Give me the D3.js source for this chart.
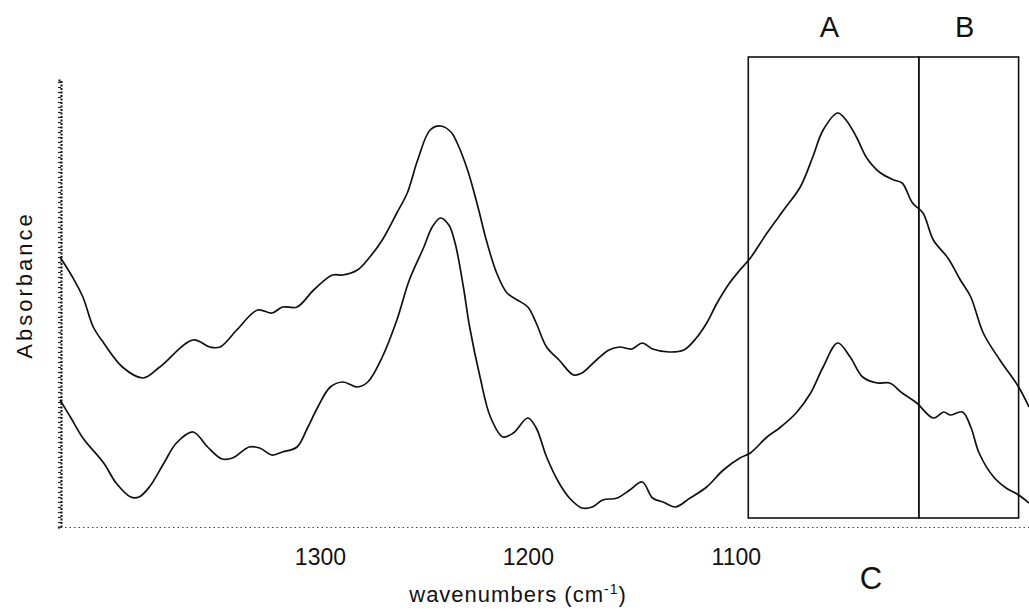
<!DOCTYPE html>
<html>
<head>
<meta charset="utf-8">
<script src="https://cdn.jsdelivr.net/npm/d3@7"></script>
<style>
  html, body { margin: 0; padding: 0; background: #fff; }
  svg { display: block; font-family: "Liberation Sans", Arial, sans-serif; }
</style>
</head>
<body>
<svg id="chart" width="1029" height="611"></svg>
<script>
// ---- data (wavenumber cm-1, absorbance a.u.) ----
const upperWave = [1425,1419,1414,1409,1404,1395,1385,1377,1361,1353,1348,1340,1330,1323,1318,1311,1303,1294,1289,1282,1276,1270,1263,1258,1253,1247,1242,1237,1234,1229,1224,1220,1215,1210,1205,1200,1196,1191,1185,1178,1174,1167,1161,1156,1150,1145,1140,1132,1125,1119,1114,1109,1103,1098,1093,1085,1077,1069,1063,1058,1051,1047,1042,1037,1031,1024,1020,1015,1010,1005,998,992,987,981,973,964,959];
const upperAbs  = [2.70,2.50,2.30,2.00,1.84,1.60,1.49,1.60,1.87,1.80,1.80,1.97,2.17,2.14,2.20,2.20,2.37,2.52,2.52,2.57,2.70,2.87,3.14,3.34,3.67,3.97,4.01,3.95,3.84,3.57,3.20,2.87,2.54,2.34,2.27,2.20,2.04,1.80,1.67,1.52,1.54,1.67,1.77,1.80,1.78,1.84,1.78,1.75,1.77,1.89,2.04,2.24,2.44,2.57,2.69,2.94,3.17,3.40,3.70,3.97,4.14,4.07,3.90,3.69,3.55,3.47,3.44,3.24,3.14,2.87,2.69,2.47,2.30,1.94,1.67,1.40,1.20];

const lowerWave = [1425,1420,1414,1404,1398,1391,1387,1382,1375,1369,1361,1354,1347,1342,1334,1329,1323,1318,1311,1306,1301,1295,1289,1282,1277,1270,1263,1257,1250,1246,1242,1238,1235,1231,1228,1223,1218,1212,1207,1200,1196,1191,1185,1180,1174,1169,1164,1157,1151,1145,1140,1135,1129,1122,1114,1106,1098,1093,1085,1079,1071,1064,1058,1051,1045,1039,1032,1026,1020,1013,1005,1000,997,991,987,983,976,970,964,959];
const lowerAbs  = [1.27,1.10,0.89,0.64,0.44,0.30,0.30,0.40,0.64,0.84,0.95,0.80,0.68,0.69,0.80,0.79,0.72,0.75,0.80,0.99,1.20,1.40,1.45,1.40,1.45,1.70,2.07,2.47,2.80,3.00,3.09,3.02,2.84,2.40,2.00,1.50,1.10,0.90,0.94,1.09,0.99,0.70,0.44,0.29,0.19,0.20,0.27,0.29,0.37,0.45,0.29,0.25,0.20,0.29,0.40,0.57,0.69,0.74,0.90,0.99,1.14,1.34,1.60,1.84,1.70,1.50,1.44,1.44,1.34,1.24,1.09,1.15,1.12,1.15,1.00,0.74,0.50,0.39,0.32,0.24];

const xTicks = [1300, 1200, 1100];
// region boxes: boundaries in cm-1 and labels
const boxEdges = [1094, 1012, 964];
const boxTop = 4.70, boxBottom = 0.09;
const regionLabels = ["A", "B"];
const extraLabel = { text: "C", wave: 1035 };

// ---- layout ----
const svg = d3.select("#chart");
const x = d3.scaleLinear().domain([1425, 959]).range([60, 1029]);
const y = d3.scaleLinear().domain([0, 4.47]).range([527, 80]);

// y axis (dotted, with dense minor ticks)
const yAxis = d3.axisLeft(y).ticks(90).tickSize(3).tickFormat("");
const gy = svg.append("g").attr("transform", "translate(61,0)").call(yAxis);
gy.select(".domain").attr("stroke", "#111").attr("stroke-width", 2).attr("stroke-dasharray", "2,1.5");
gy.selectAll(".tick line").attr("stroke", "#222").attr("stroke-width", 1.2);

// x axis (dotted baseline, labels only)
const xAxis = d3.axisBottom(x).tickValues(xTicks).tickSize(0).tickPadding(22).tickFormat(d3.format("d"));
const gx = svg.append("g").attr("transform", "translate(0,527)").call(xAxis);
gx.select(".domain").attr("stroke", "#444").attr("stroke-width", 1.2).attr("stroke-dasharray", "1.5,3");
gx.selectAll(".tick text").attr("font-size", 23).attr("fill", "#111")
  .attr("font-family", "'Liberation Sans', Arial, sans-serif");

// curves
const line = d3.line().x(d => x(d[0])).y(d => y(d[1])).curve(d3.curveCatmullRom.alpha(0.5));
[[upperWave, upperAbs], [lowerWave, lowerAbs]].forEach(([w, a]) => {
  svg.append("path")
    .datum(w.map((v, i) => [v, a[i]]))
    .attr("d", line)
    .attr("fill", "none")
    .attr("stroke", "#111")
    .attr("stroke-width", 1.7);
});

// boxes
for (let i = 0; i < boxEdges.length - 1; i++) {
  const x0 = x(boxEdges[i]), x1 = x(boxEdges[i + 1]);
  svg.append("rect")
    .attr("x", x0).attr("y", y(boxTop))
    .attr("width", x1 - x0).attr("height", y(boxBottom) - y(boxTop))
    .attr("fill", "none").attr("stroke", "#111").attr("stroke-width", 1.6);
  svg.append("text")
    .attr("x", (x0 + x1) / 2 - 4).attr("y", 37)
    .attr("text-anchor", "middle").attr("font-size", 29).attr("fill", "#111")
    .text(regionLabels[i]);
}
svg.append("text")
  .attr("x", x(extraLabel.wave)).attr("y", 589)
  .attr("text-anchor", "middle").attr("font-size", 31).attr("fill", "#111")
  .text(extraLabel.text);

// axis titles
svg.append("text")
  .attr("transform", "translate(32,285) rotate(-90)")
  .attr("text-anchor", "middle").attr("font-size", 22).attr("letter-spacing", 3).attr("fill", "#111")
  .text("Absorbance");
const xt = svg.append("text")
  .attr("x", 518).attr("y", 602)
  .attr("text-anchor", "middle").attr("font-size", 22).attr("letter-spacing", 1).attr("fill", "#111");
xt.append("tspan").text("wavenumbers (cm");
xt.append("tspan").attr("dy", -8).attr("font-size", 14).text("-1");
xt.append("tspan").attr("dy", 8).text(")");
</script>
</body>
</html>
